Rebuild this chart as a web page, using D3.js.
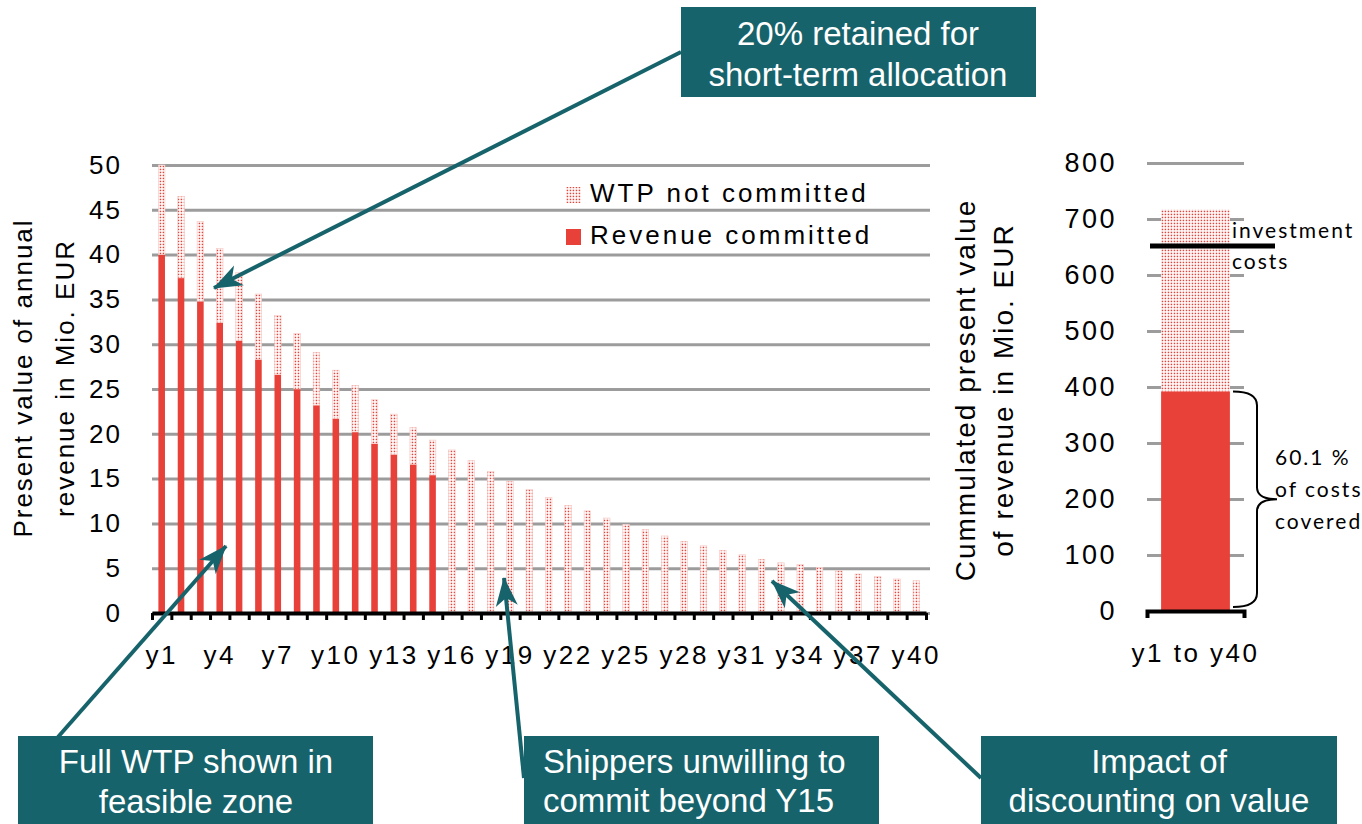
<!DOCTYPE html>
<html>
<head>
<meta charset="utf-8">
<script src="https://cdn.jsdelivr.net/npm/d3@7"></script>
<style>
  body { margin: 0; background: #fff; }
  svg { display: block; font-family: "Liberation Sans", Arial, sans-serif; }
</style>
</head>
<body>
<svg></svg>
<script>
// values
const years = d3.range(1, 41).map((i) => "y" + i);
const wtpTotal = [
  50, 46.5, 43.7, 40.7, 38.0, 35.6, 33.2, 31.2, 29.1, 27.1,
  25.4, 23.8, 22.2, 20.7, 19.3, 18.2, 17.0, 15.8, 14.7, 13.8,
  12.9, 12.0, 11.4, 10.6, 9.9, 9.3, 8.6, 8.0, 7.5, 7.0,
  6.5, 6.0, 5.6, 5.4, 5.1, 4.7, 4.35, 4.1, 3.8, 3.6,
];
const revenueCommitted = [
  40, 37.4, 34.8, 32.4, 30.4, 28.3, 26.6, 25.0, 23.2, 21.7,
  20.2, 18.9, 17.7, 16.6, 15.4, 0, 0, 0, 0, 0,
  0, 0, 0, 0, 0, 0, 0, 0, 0, 0,
  0, 0, 0, 0, 0, 0, 0, 0, 0, 0,
];
const leftTicks = [0, 5, 10, 15, 20, 25, 30, 35, 40, 45, 50];
const xTickLabels = ["y1", "y4", "y7", "y10", "y13", "y16", "y19", "y22", "y25", "y28", "y31", "y34", "y37", "y40"];

const cumCategory = ["y1 to y40"];
const cumCommitted = [392];
const cumTotal = [717];
const investmentCost = 652;
const rightTicks = [0, 100, 200, 300, 400, 500, 600, 700, 800];

const legendLabels = ["WTP not committed", "Revenue committed"];

const red = "#e8413a";
const teal = "#17636b";
const gridColor = "#9c9c9c";

const width = 1362;
const height = 824;
const svg = d3.select("svg").attr("width", width).attr("height", height);

// dotted fill for the not-committed part
const defs = svg.append("defs");
const pat = defs
  .append("pattern")
  .attr("id", "dots")
  .attr("patternUnits", "userSpaceOnUse")
  .attr("width", 3)
  .attr("height", 3);
pat.append("rect").attr("width", 3).attr("height", 3).attr("fill", "#fff");
pat.append("rect").attr("x", 0.7).attr("y", 0.7).attr("width", 1.5).attr("height", 1.5).attr("fill", red);

defs
  .append("marker")
  .attr("id", "head")
  .attr("markerUnits", "userSpaceOnUse")
  .attr("markerWidth", 30)
  .attr("markerHeight", 24)
  .attr("viewBox", "0 0 30 24")
  .attr("refX", 28)
  .attr("refY", 12)
  .attr("orient", "auto")
  .append("path")
  .attr("d", "M0,1 L29,12 L0,23 L8,12 Z")
  .attr("fill", teal);

// ---------- left chart ----------
const left = { x0: 152, x1: 926, gridEnd: 930, top: 165, bottom: 613 };

const x = d3
  .scaleBand()
  .domain(years)
  .range([left.x0, left.x1])
  .paddingInner(0.66)
  .paddingOuter(0.33);

const yLeft = d3.scaleLinear().domain([0, 50]).range([left.bottom, left.top]);

const rows = years.map((yr, i) => ({
  year: yr,
  committed: revenueCommitted[i],
  open: wtpTotal[i] - revenueCommitted[i],
}));
const stacked = d3.stack().keys(["committed", "open"])(rows);

const gridLeft = svg
  .append("g")
  .attr("transform", "translate(" + left.x0 + ",0)")
  .call(
    d3.axisLeft(yLeft).tickValues(leftTicks).tickSize(-(left.gridEnd - left.x0)).tickPadding(30)
  );
gridLeft.select(".domain").remove();
gridLeft.selectAll("line").attr("stroke", gridColor).attr("stroke-width", 3);
gridLeft
  .selectAll("text")
  .attr("font-size", 26)
  .attr("letter-spacing", 2)
  .attr("font-family", "Liberation Sans, Arial, sans-serif")
  .attr("fill", "#000");

svg
  .append("g")
  .selectAll("g")
  .data(stacked)
  .join("g")
  .attr("fill", (d) => (d.key === "committed" ? red : "url(#dots)"))
  .attr("stroke", (d) => (d.key === "committed" ? "none" : "#f5c9c4"))
  .attr("stroke-width", 0.6)
  .selectAll("rect")
  .data((d) => d.filter((p) => p[1] - p[0] > 0))
  .join("rect")
  .attr("x", (p) => x(p.data.year))
  .attr("width", x.bandwidth())
  .attr("y", (p) => yLeft(p[1]))
  .attr("height", (p) => yLeft(p[0]) - yLeft(p[1]));

// category boundary ticks + thick base line
const xb = d3.scaleLinear().domain([0, years.length]).range([left.x0, left.x1]);
const xTicks = svg
  .append("g")
  .attr("transform", "translate(0," + left.bottom + ")")
  .call(d3.axisBottom(xb).tickValues(d3.range(0, 41)).tickSize(7).tickSizeOuter(0).tickFormat(""));
xTicks.select(".domain").attr("stroke", "#000").attr("stroke-width", 4);
xTicks.selectAll("line").attr("stroke", "#000").attr("stroke-width", 3);

const xLabels = svg
  .append("g")
  .attr("transform", "translate(0," + left.bottom + ")")
  .call(
    d3.axisBottom(x).tickSize(0).tickPadding(33).tickFormat((d) => (xTickLabels.includes(d) ? d : ""))
  );
xLabels.select(".domain").remove();
xLabels
  .selectAll("text")
  .attr("font-size", 26)
  .attr("letter-spacing", 2.5)
  .attr("font-family", "Liberation Sans, Arial, sans-serif")
  .attr("fill", "#000");

// left axis title
const leftTitle = svg
  .append("text")
  .attr("transform", "translate(32,378) rotate(-90)")
  .attr("text-anchor", "middle")
  .attr("font-size", 26)
  .attr("letter-spacing", 2);
leftTitle.append("tspan").attr("x", 0).attr("y", 0).text("Present value of annual");
leftTitle.append("tspan").attr("x", 0).attr("y", 42).text("revenue in Mio. EUR");

// legend
const legend = svg.append("g").attr("transform", "translate(566,0)");
legend
  .selectAll("rect")
  .data(legendLabels)
  .join("rect")
  .attr("x", 0)
  .attr("y", (d, i) => 187 + i * 42)
  .attr("width", 15)
  .attr("height", 16)
  .attr("fill", (d, i) => (i === 0 ? "url(#dots)" : red));
legend
  .selectAll("text")
  .data(legendLabels)
  .join("text")
  .attr("x", 24)
  .attr("y", (d, i) => 202 + i * 42)
  .attr("font-size", 26)
  .attr("letter-spacing", 3)
  .text((d) => d);

// ---------- right chart ----------
const right = { x0: 1147, x1: 1244, top: 163, bottom: 611 };
const yRight = d3.scaleLinear().domain([0, 800]).range([right.bottom, right.top]);
const xr = d3.scaleBand().domain(cumCategory).range([right.x0, right.x1]).padding(0.17);

const gridRight = svg
  .append("g")
  .attr("transform", "translate(" + right.x0 + ",0)")
  .call(
    d3.axisLeft(yRight).tickValues(rightTicks).tickSize(-(right.x1 - right.x0)).tickPadding(30)
  );
gridRight.select(".domain").remove();
gridRight.selectAll("line").attr("stroke", gridColor).attr("stroke-width", 3);
gridRight
  .selectAll("text")
  .attr("font-size", 27)
  .attr("letter-spacing", 2.5)
  .attr("font-family", "Liberation Sans, Arial, sans-serif")
  .attr("fill", "#000");

svg
  .selectAll(".cum-open")
  .data(cumCategory)
  .join("rect")
  .attr("class", "cum-open")
  .attr("x", (d) => xr(d))
  .attr("width", xr.bandwidth())
  .attr("y", (d, i) => yRight(cumTotal[i]))
  .attr("height", (d, i) => yRight(cumCommitted[i]) - yRight(cumTotal[i]))
  .attr("fill", "url(#dots)");
svg
  .selectAll(".cum-committed")
  .data(cumCategory)
  .join("rect")
  .attr("class", "cum-committed")
  .attr("x", (d) => xr(d))
  .attr("width", xr.bandwidth())
  .attr("y", (d, i) => yRight(cumCommitted[i]))
  .attr("height", (d, i) => yRight(0) - yRight(cumCommitted[i]))
  .attr("fill", red);

const xrAxis = svg
  .append("g")
  .attr("transform", "translate(0," + right.bottom + ")")
  .call(d3.axisBottom(xr).tickSize(0).tickSizeOuter(7).tickPadding(33));
xrAxis.select(".domain").attr("stroke", "#000").attr("stroke-width", 4);
xrAxis
  .selectAll("text")
  .attr("font-size", 26)
  .attr("letter-spacing", 2.5)
  .attr("font-family", "Liberation Sans, Arial, sans-serif")
  .attr("fill", "#000");

// investment cost line
svg
  .append("line")
  .attr("x1", 1150)
  .attr("x2", 1275)
  .attr("y1", yRight(investmentCost))
  .attr("y2", yRight(investmentCost))
  .attr("stroke", "#000")
  .attr("stroke-width", 5);

const noteFont = "Lato, 'Open Sans', sans-serif";
svg
  .selectAll(".inv-note")
  .data(["investment", "costs"])
  .join("text")
  .attr("class", "inv-note")
  .attr("x", 1232)
  .attr("y", (d, i) => 238 + i * 31)
  .attr("font-family", noteFont)
  .attr("font-size", 21)
  .attr("letter-spacing", 2)
  .text((d) => d);

// brace for the covered share
const bTop = yRight(cumCommitted[0]);
const bBot = yRight(0) - 4;
const bMid = (bTop + bBot) / 2;
svg
  .append("path")
  .attr(
    "d",
    `M1233,${bTop} Q1257,${bTop} 1257,${bTop + 14} L1257,${bMid - 12} Q1257,${bMid} 1277,${bMid}` +
      ` Q1257,${bMid} 1257,${bMid + 12} L1257,${bBot - 14} Q1257,${bBot} 1233,${bBot}`
  )
  .attr("fill", "none")
  .attr("stroke", "#000")
  .attr("stroke-width", 2);

const shareText = (cumCommitted[0] / investmentCost * 100).toFixed(1) + " %";
svg
  .selectAll(".share-note")
  .data([shareText, "of costs", "covered"])
  .join("text")
  .attr("class", "share-note")
  .attr("x", 1275)
  .attr("y", (d, i) => 465 + i * 32)
  .attr("font-family", noteFont)
  .attr("font-size", 21)
  .attr("letter-spacing", 2)
  .text((d) => d);

// right axis title
const rightTitle = svg
  .append("text")
  .attr("transform", "translate(975,390) rotate(-90)")
  .attr("text-anchor", "middle")
  .attr("font-size", 28)
  .attr("letter-spacing", 2);
rightTitle.append("tspan").attr("x", 0).attr("y", 0).text("Cummulated present value");
rightTitle.append("tspan").attr("x", 0).attr("y", 38).text("of revenue in Mio. EUR");

// ---------- callouts ----------
const callouts = [
  { box: [681, 7, 355, 90], lines: ["20% retained for", "short-term allocation"], tx: 858, ty: [45, 86], anchor: "middle", from: [681, 52], to: [214, 288] },
  { box: [18, 736, 355, 100], lines: ["Full WTP shown in", "feasible zone"], tx: 196, ty: [773, 813], anchor: "middle", from: [58, 737], to: [226, 546] },
  { box: [524, 736, 355, 100], lines: ["Shippers unwilling to", "commit beyond Y15"], tx: 543, ty: [773, 812], anchor: "start", from: [524, 778], to: [504, 578] },
  { box: [981, 736, 356, 100], lines: ["Impact of", "discounting on value"], tx: 1159, ty: [773, 812], anchor: "middle", from: [981, 778], to: [772, 581] },
];

const notes = svg.append("g");
callouts.forEach((c) => {
  notes
    .append("line")
    .attr("x1", c.from[0])
    .attr("y1", c.from[1])
    .attr("x2", c.to[0])
    .attr("y2", c.to[1])
    .attr("stroke", teal)
    .attr("stroke-width", 4)
    .attr("marker-end", "url(#head)");
  notes
    .append("rect")
    .attr("x", c.box[0])
    .attr("y", c.box[1])
    .attr("width", c.box[2])
    .attr("height", c.box[3])
    .attr("fill", teal);
  notes
    .append("g")
    .selectAll("text")
    .data(c.lines)
    .join("text")
    .attr("x", c.tx)
    .attr("y", (d, i) => c.ty[i])
    .attr("text-anchor", c.anchor)
    .attr("fill", "#fff")
    .attr("font-size", 33)
    .text((d) => d);
});
</script>
</body>
</html>
